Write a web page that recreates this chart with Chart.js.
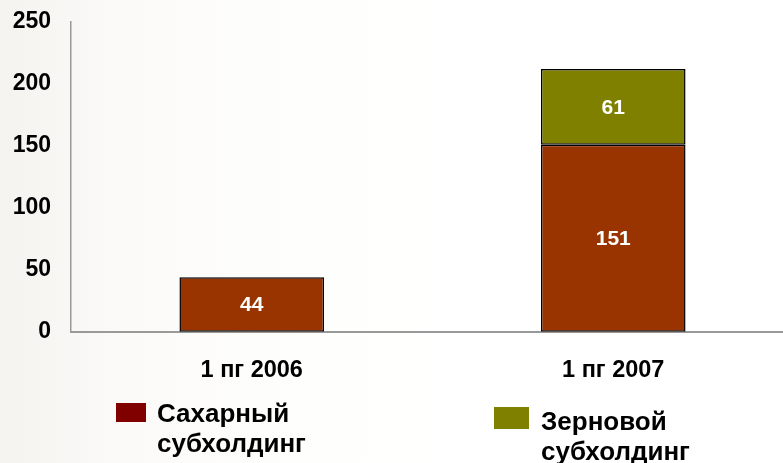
<!DOCTYPE html>
<html><head><meta charset="utf-8">
<script src="https://cdn.jsdelivr.net/npm/chart.js@4/dist/chart.umd.min.js"></script>
<style>
html,body{margin:0;padding:0;width:783px;height:463px;overflow:hidden;
background:linear-gradient(to right,#f5f3ef 0px,#fbfaf8 120px,#fefefd 300px,#ffffff 500px);font-family:"Liberation Sans",Arial,sans-serif;}
#wrap{position:absolute;left:0;top:0;width:794px;height:463px;}
.leg{position:absolute;font-weight:bold;font-size:26px;line-height:30px;color:#000;white-space:nowrap;}
.sw{position:absolute;}
</style></head><body>
<div id="wrap"><canvas id="c" width="794" height="463"></canvas></div>
<div id="legend"></div>
<script>
const categories = ["1 пг 2006", "1 пг 2007"];
const seriesNames = ["Сахарный субхолдинг", "Зерновой субхолдинг"];
const sugar = [44, 151];
const grain = [null, 61];
const yTicks = [0, 50, 100, 150, 200, 250];

const barColors = ["#993300", "#808000"];
const legendColors = ["#800000", "#808000"];

const labelPlugin = {
  id: 'vals',
  afterDatasetsDraw(chart) {
    const ctx = chart.ctx;
    ctx.save();
    ctx.fillStyle = '#ffffff';
    ctx.font = 'bold 21px "Liberation Sans Narrow", "Liberation Sans", Arial';
    ctx.textAlign = 'center';
    ctx.textBaseline = 'middle';
    chart.data.datasets.forEach((ds, i) => {
      const meta = chart.getDatasetMeta(i);
      meta.data.forEach((el, j) => {
        const v = ds.data[j];
        if (v == null) return;
        const p = el.getProps(['x', 'y', 'base'], true);
        ctx.fillText(String(v), p.x, (p.y + p.base) / 2 + 1);
      });
    });
    ctx.restore();
  }
};

new Chart(document.getElementById('c'), {
  type: 'bar',
  data: {
    labels: categories,
    datasets: [
      {label: seriesNames[0], data: sugar, backgroundColor: barColors[0], borderColor: '#000', borderWidth: 1.5, borderSkipped: false},
      {label: seriesNames[1], data: grain, backgroundColor: barColors[1], borderColor: '#000', borderWidth: 1.5, borderSkipped: false}
    ]
  },
  options: {
    responsive: false,
    animation: false,
    events: [],
    layout: {padding: {top: 22, bottom: 53, left: 0, right: 0}},
    plugins: {legend: {display: false}, tooltip: {enabled: false}},
    datasets: {bar: {barPercentage: 0.4, categoryPercentage: 1}},
    scales: {
      x: {
        stacked: true,
        grid: {display: false, drawTicks: false},
        border: {color: '#999999', width: 2},
        ticks: {color: '#000', font: {family: '"Liberation Sans", Arial', weight: 'bold', size: 23.5}, padding: 25}
      },
      y: {
        stacked: true,
        min: 0, max: 250,
        afterBuildTicks(s) { s.ticks = yTicks.map(v => ({value: v})); },
        afterFit(s) { s.width = 71; s.paddingTop = 0; s.paddingBottom = 0; },
        grid: {display: false, drawTicks: false},
        border: {color: '#999999', width: 1.5},
        ticks: {color: '#000', font: {family: '"Liberation Sans", Arial', weight: 'bold', size: 23}, padding: 20}
      }
    }
  },
  plugins: [labelPlugin]
});

// HTML legend
const legPos = [
  {sx:116, sy:403, sw:30, sh:19, tx:157, ty:398},
  {sx:494, sy:407, sw:35, sh:22, tx:541, ty:406}
];
const legend = document.getElementById('legend');
seriesNames.forEach((n, i) => {
  const p = legPos[i];
  const sw = document.createElement('div');
  sw.className = 'sw';
  sw.style.left = p.sx + 'px'; sw.style.top = p.sy + 'px';
  sw.style.width = p.sw + 'px'; sw.style.height = p.sh + 'px';
  sw.style.background = legendColors[i];
  legend.appendChild(sw);
  const t = document.createElement('div');
  t.className = 'leg';
  t.style.left = p.tx + 'px'; t.style.top = p.ty + 'px';
  t.innerHTML = n.split(' ').join('<br>');
  legend.appendChild(t);
});
</script>
</body></html>
